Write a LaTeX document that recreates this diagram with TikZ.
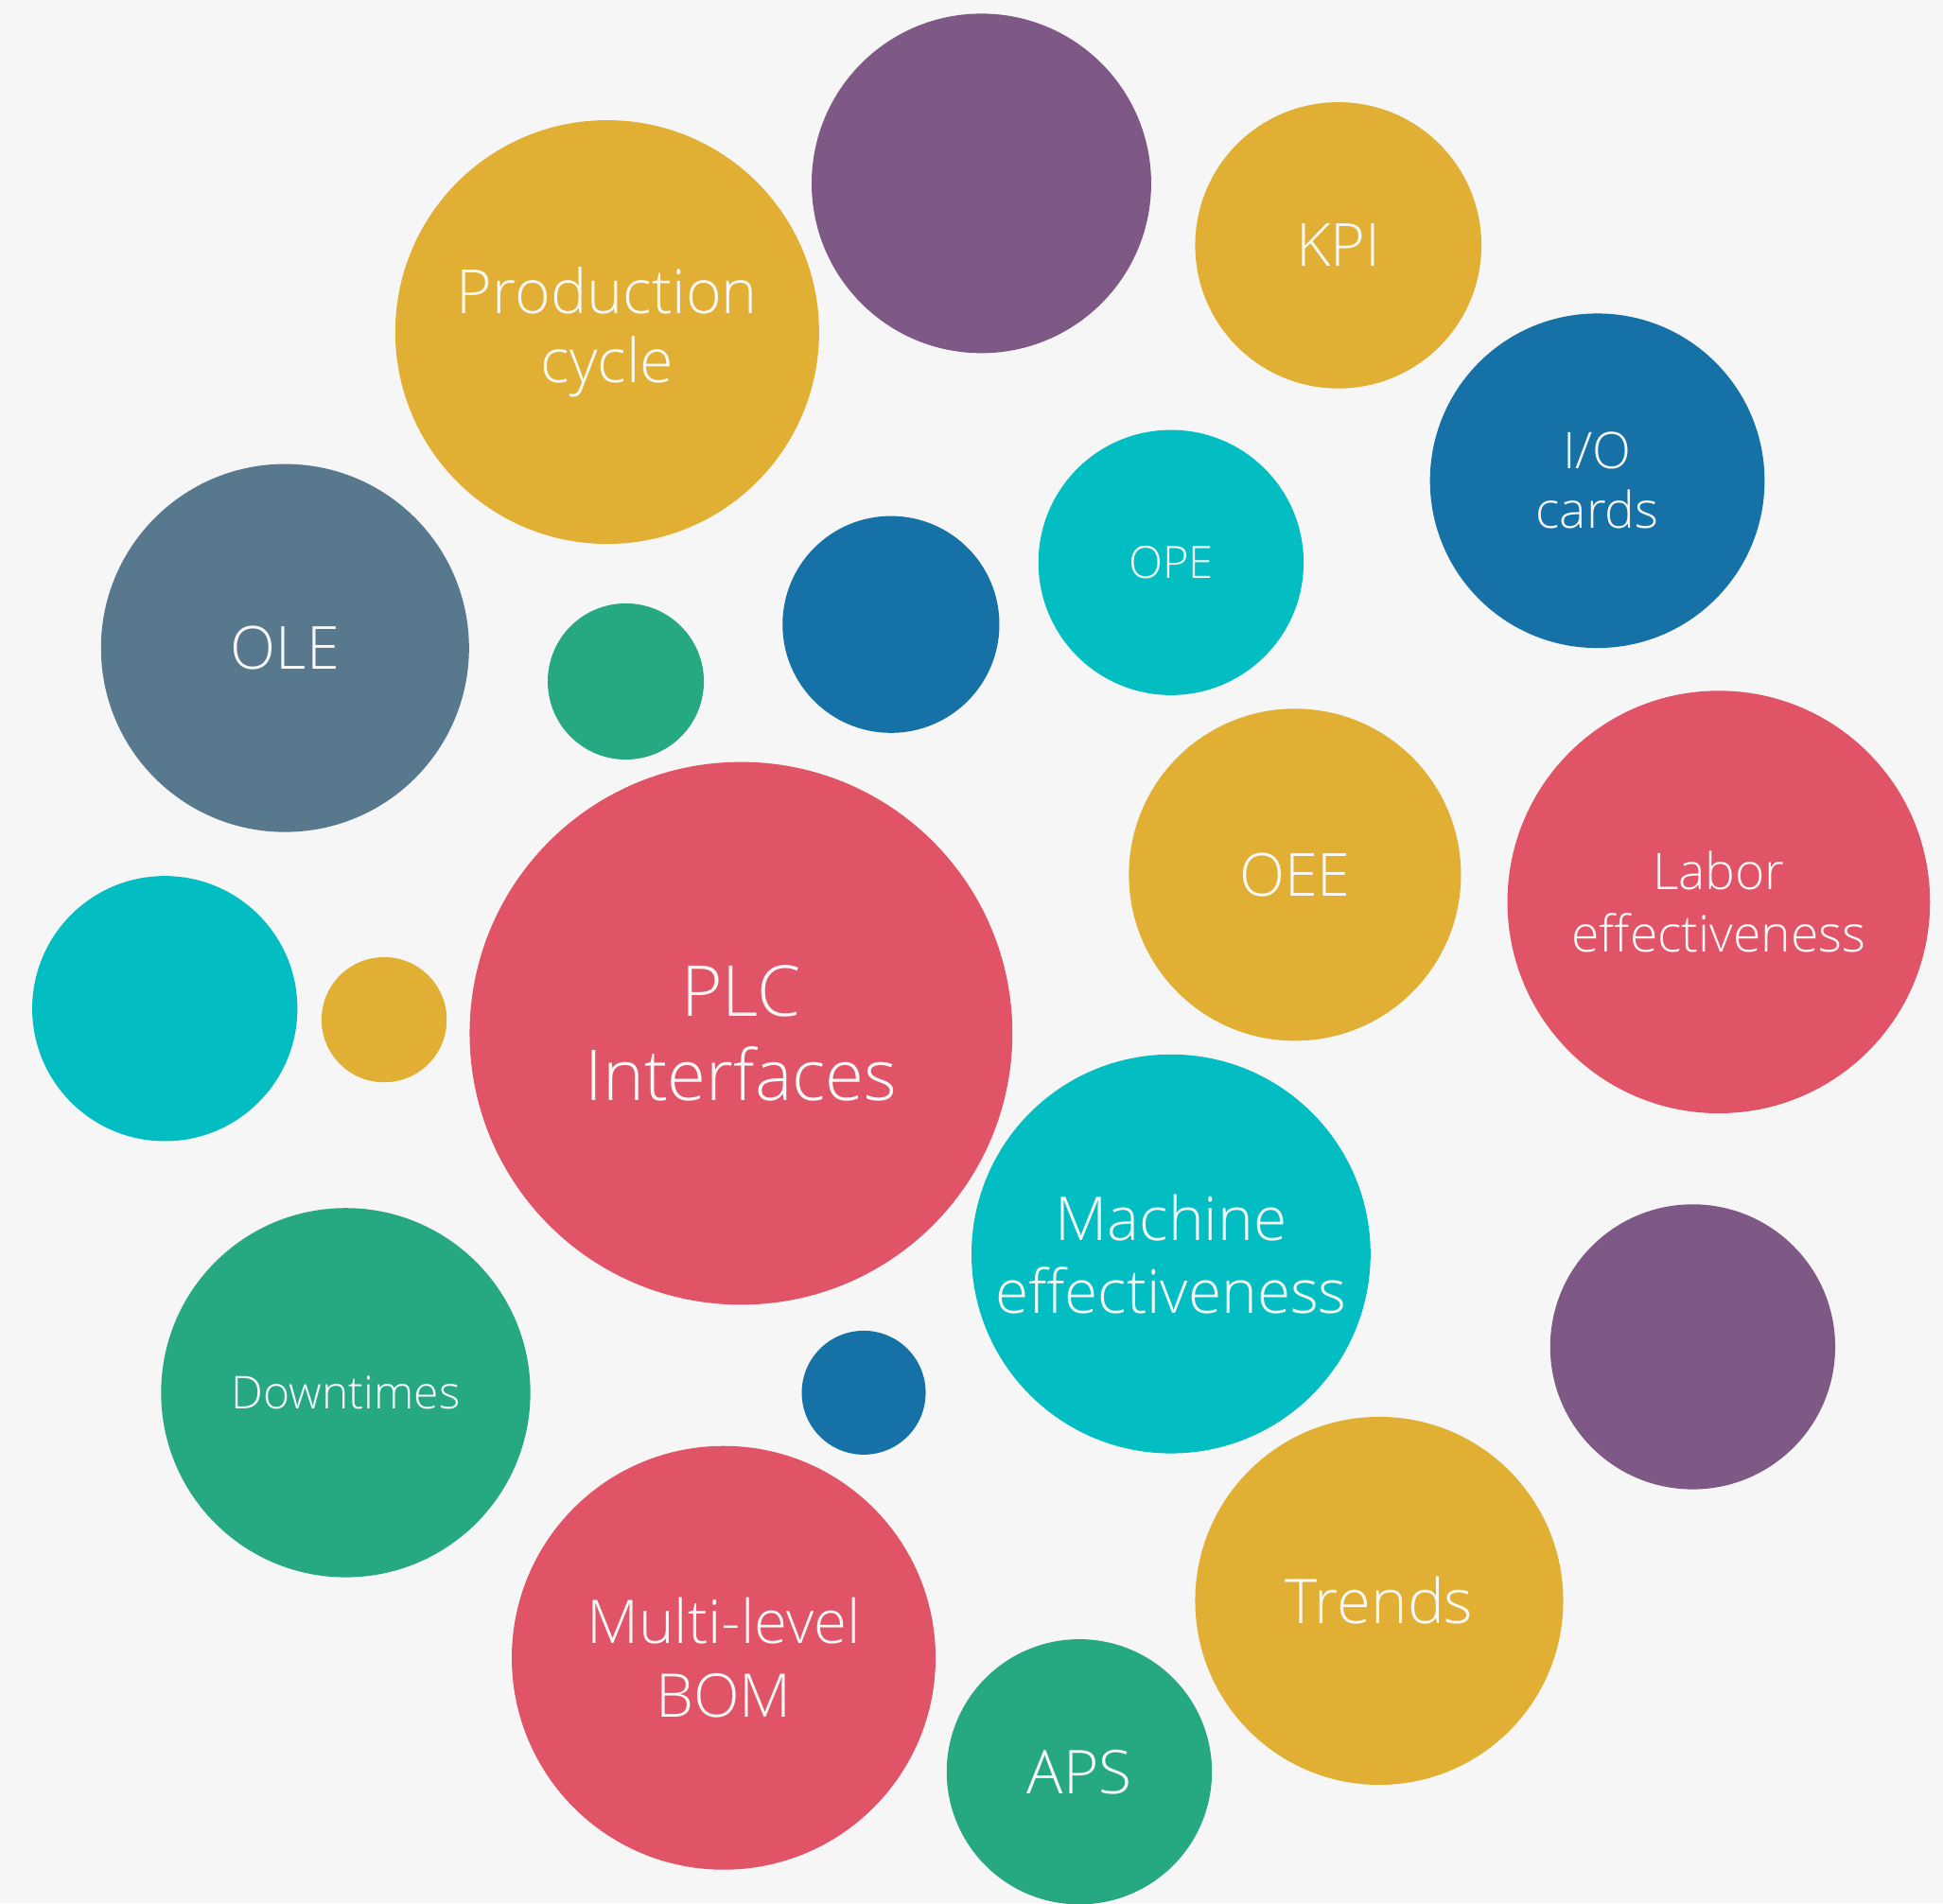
\documentclass[tikz,border=0pt]{standalone}
\usepackage{fontspec}
\setmainfont{Open Sans Light}
\definecolor{bg}{HTML}{F6F6F6}
\definecolor{cyel}{HTML}{E1AF33}
\definecolor{cpur}{HTML}{7F5985}
\definecolor{cblu}{HTML}{1672A6}
\definecolor{ccya}{HTML}{02BEC3}
\definecolor{cred}{HTML}{E15366}
\definecolor{cgrn}{HTML}{26A882}
\definecolor{cgry}{HTML}{58788E}
\definecolor{txt}{HTML}{F8F8F8}
\tikzset{
  bub/.style={circle, inner sep=0pt, outer sep=0pt, minimum size=#1*1pt},
  lbl/.style={text=txt, align=center, inner sep=0pt},
}
\newcommand{\fs}[2]{\fontsize{#1}{#2}\selectfont}
\begin{document}
\begin{tikzpicture}[x=0.5pt,y=-0.5pt]
\fill[bg] (0,0) rectangle (1568,1536);
\useasboundingbox (0,0) rectangle (1568,1536);
% bubbles: diameter in pt = radius in units (1 unit = 0.5pt)
\node[bub=137, fill=cpur] (purtop) at (792,148) {};
\node[bub=171, fill=cyel] (prod) at (490,268) {};
\node[bub=115.5, fill=cyel] (kpi) at (1080,198) {};
\node[bub=135, fill=cblu] (io) at (1289,388) {};
\node[bub=107, fill=ccya] (ope) at (945,454) {};
\node[bub=87.5, fill=cblu] (blusm) at (719,504) {};
\node[bub=63, fill=cgrn] (grnsm) at (505,550) {};
\node[bub=148.5, fill=cgry] (ole) at (230,523) {};
\node[bub=134, fill=cyel] (oee) at (1045,706) {};
\node[bub=170.5, fill=cred] (labor) at (1387,728) {};
\node[bub=107, fill=ccya] (cyaleft) at (133,814) {};
\node[bub=50.5, fill=cyel] (yelsm) at (310,823) {};
\node[bub=219, fill=cred] (plc) at (598,834) {};
\node[bub=161, fill=ccya] (mach) at (945,1012) {};
\node[bub=115, fill=cpur] (purright) at (1366,1087) {};
\node[bub=149, fill=cgrn] (down) at (279,1124) {};
\node[bub=50, fill=cblu] (blusm2) at (697,1124) {};
\node[bub=148.5, fill=cyel] (trends) at (1113,1292) {};
\node[bub=171, fill=cred] (bom) at (584,1338) {};
\node[bub=107, fill=cgrn] (aps) at (871,1430) {};
% labels
\node[lbl, font=\fs{24.6}{28}] (tprod) at (prod) {Production\\cycle};
\node[lbl, font=\fs{24}{29}] (tkpi) at (kpi) {KPI};
\node[lbl, font=\fs{20.4}{24}] (tio) at (io) {I/O\\cards};
\node[lbl, font=\fs{18}{22}] (tope) at (ope) {OPE};
\node[lbl, font=\fs{24}{29}] (tole) at (ole) {OLE};
\node[lbl, font=\fs{24}{29}] (toee) at (oee) {OEE};
\node[lbl, font=\fs{20.4}{25}] (tlabor) at (labor) {Labor\\effectiveness};
\node[lbl, font=\fs{28.4}{34}] (tplc) at (plc) {PLC\\Interfaces};
\node[lbl, font=\fs{24.4}{29.5}] (tmach) at (mach) {Machine\\effectiveness};
\node[lbl, font=\fs{18.3}{21}] (tdown) at (down) {Downtimes};
\node[lbl, font=\fs{24.9}{28}] (ttrends) at (trends) {Trends};
\node[lbl, font=\fs{24.3}{29.5}] (tbom) at (bom) {Multi-level\\BOM};
\node[lbl, font=\fs{24.4}{28}] (taps) at (aps) {APS};
\end{tikzpicture}
\end{document}
